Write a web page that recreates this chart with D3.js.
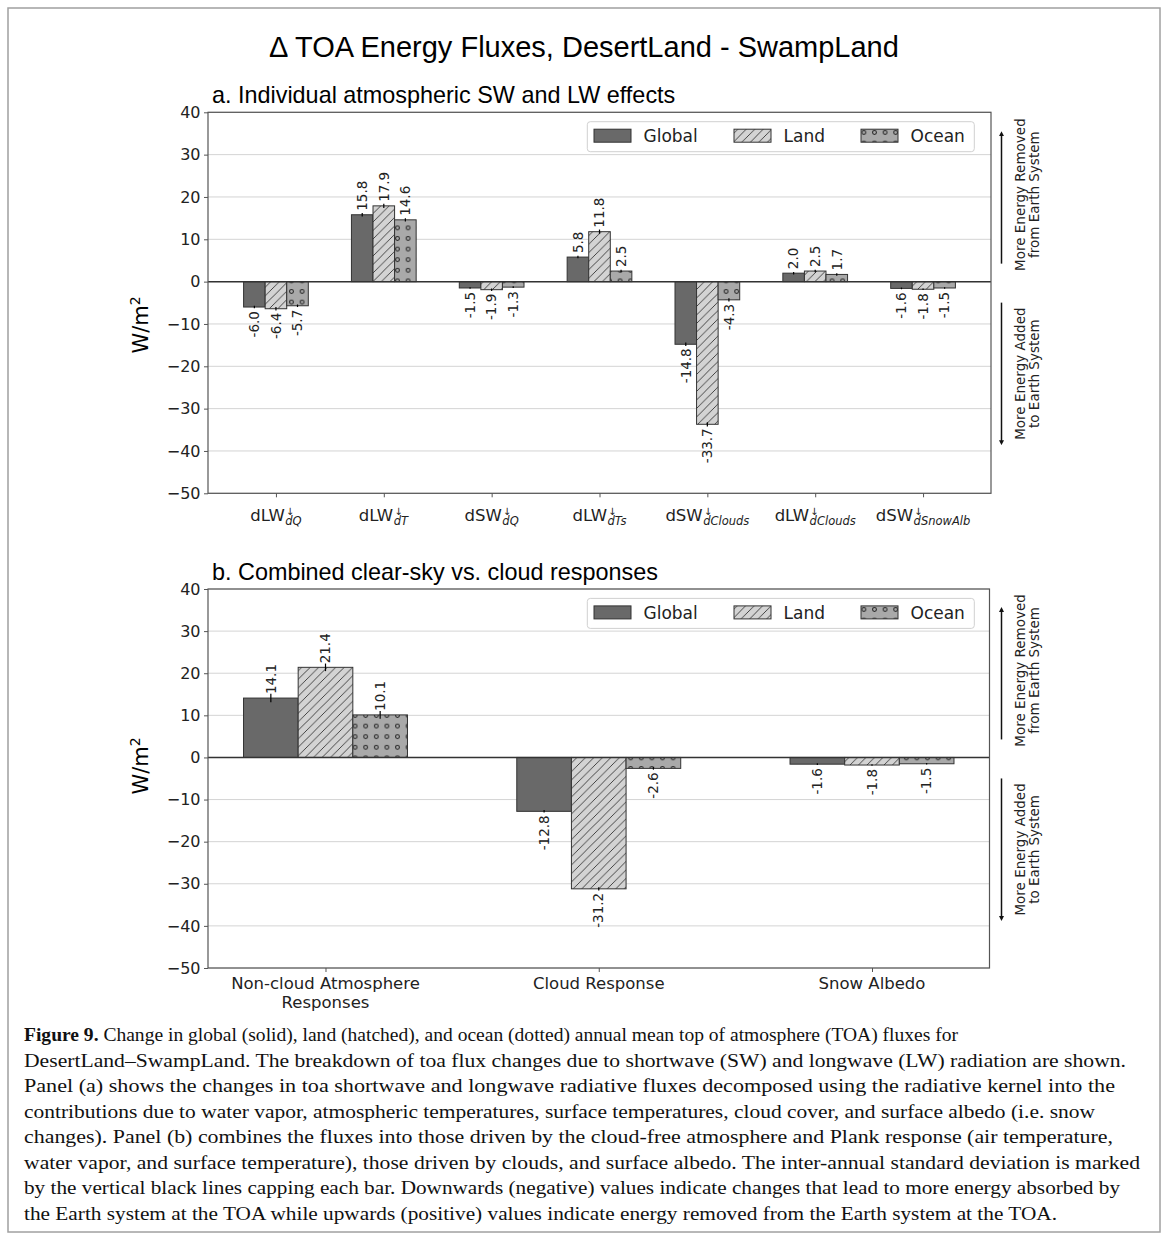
<!DOCTYPE html>
<html><head><meta charset="utf-8">
<script src="https://cdn.jsdelivr.net/npm/d3@7"></script>
<style>body{margin:0;background:#fff}</style>
</head><body><svg id="c" width="1168" height="1240"></svg>
<script>
// ---------- data ----------
const seriesNames = ["Global", "Land", "Ocean"];
const catsA = [["dLW","dQ"],["dLW","dT"],["dSW","dQ"],["dLW","dTs"],["dSW","dClouds"],["dLW","dClouds"],["dSW","dSnowAlb"]];
const globalA = [-6.0, 15.8, -1.5, 5.8, -14.8, 2.0, -1.6];
const landA   = [-6.4, 17.9, -1.9, 11.8, -33.7, 2.5, -1.8];
const oceanA  = [-5.7, 14.6, -1.3, 2.5, -4.3, 1.7, -1.5];
const errGlobalA = [0.3, 0.4, 0.2, 0.3, 0.4, 0.3, 0.2];
const errLandA   = [0.4, 0.5, 0.3, 0.5, 0.5, 0.3, 0.2];
const errOceanA  = [0.3, 0.4, 0.2, 0.3, 0.4, 0.3, 0.2];
const catsB = [["Non-cloud Atmosphere","Responses"],["Cloud Response"],["Snow Albedo"]];
const globalB = [14.1, -12.8, -1.6];
const landB   = [21.4, -31.2, -1.8];
const oceanB  = [10.1, -2.6, -1.5];
const errGlobalB = [1.0, 0.3, 0.2];
const errLandB   = [0.9, 0.4, 0.2];
const errOceanB  = [0.9, 0.3, 0.2];
const yTicks = [-50, -40, -30, -20, -10, 0, 10, 20, 30, 40];
const titleText = "\u0394 TOA Energy Fluxes, DesertLand - SwampLand";
const subA = "a. Individual atmospheric SW and LW effects";
const subB = "b. Combined clear-sky vs. cloud responses";
const upText = ["More Energy Removed", "from Earth System"];
const downText = ["More Energy Added", "to Earth System"];
const captionLines = [
 "Change in global (solid), land (hatched), and ocean (dotted) annual mean top of atmosphere (TOA) fluxes for",
 "DesertLand\u2013SwampLand. The breakdown of toa flux changes due to shortwave (SW) and longwave (LW) radiation are shown.",
 "Panel (a) shows the changes in toa shortwave and longwave radiative fluxes decomposed using the radiative kernel into the",
 "contributions due to water vapor, atmospheric temperatures, surface temperatures, cloud cover, and surface albedo (i.e. snow",
 "changes). Panel (b) combines the fluxes into those driven by the cloud-free atmosphere and Plank response (air temperature,",
 "water vapor, and surface temperature), those driven by clouds, and surface albedo. The inter-annual standard deviation is marked",
 "by the vertical black lines capping each bar. Downwards (negative) values indicate changes that lead to more energy absorbed by",
 "the Earth system at the TOA while upwards (positive) values indicate energy removed from the Earth system at the TOA."
];
const captionWidths = [934, 1102, 1091, 1071, 1089, 1116, 1096, 1033];

// ---------- setup ----------
const svg = d3.select("#c");
const SANS = "DejaVu Sans, sans-serif";
const HELV = "Liberation Sans, Arial, sans-serif";
const EDGE = "#333";
const defs = svg.append("defs");
const hp = defs.append("pattern").attr("id","hatch").attr("patternUnits","userSpaceOnUse")
  .attr("width",8.5).attr("height",8.5);
hp.append("rect").attr("width",8.5).attr("height",8.5).attr("fill","#d3d3d3");
hp.append("path").attr("d","M-1,9.5 L9.5,-1 M-3,2 L2,-3 M6.5,11.5 L11.5,6.5")
  .attr("stroke","#333").attr("stroke-width",0.9);
const dp = defs.append("pattern").attr("id","dots").attr("patternUnits","userSpaceOnUse")
  .attr("width",10.6).attr("height",10.6);
dp.append("rect").attr("width",10.6).attr("height",10.6).attr("fill","#a9a9a9");
dp.append("circle").attr("cx",5.3).attr("cy",5.3).attr("r",1.9)
  .attr("fill","none").attr("stroke","#222").attr("stroke-width",1);
defs.append("marker").attr("id","ah").attr("viewBox","0 0 10 10").attr("refX",5).attr("refY",5)
  .attr("markerWidth",5).attr("markerHeight",5).attr("orient","auto-start-reverse")
  .attr("markerUnits","userSpaceOnUse")
  .append("path").attr("d","M0,0 L10,5 L0,10 z").attr("fill","#111");
const fills = ["#696969", "url(#hatch)", "url(#dots)"];

// outer frame
svg.append("rect").attr("x",8).attr("y",8).attr("width",1152).attr("height",1224)
  .attr("fill","none").attr("stroke","#a0a0a0").attr("stroke-width",1.5);

svg.append("text").attr("x",584).attr("y",57).attr("text-anchor","middle")
  .attr("font-family",HELV).attr("font-size",29).attr("fill","#000").text(titleText);

function panel(cfg) {
  const n = cfg.cats.length;
  const m = 0.05 * (n - 1 + 0.6);
  const x = d3.scaleLinear().domain([-0.3 - m, n - 1 + 0.3 + m]).range([cfg.left, cfg.right]);
  const y = d3.scaleLinear().domain([-50, 40]).range([cfg.bottom, cfg.top]);
  const g = svg.append("g");

  g.append("text").attr("x", cfg.left + 4).attr("y", cfg.top - 9)
    .attr("font-family",HELV).attr("font-size",23.4).attr("fill","#000").text(cfg.sub);

  // grid
  g.append("g").selectAll("line").data(yTicks).join("line")
    .attr("x1",cfg.left).attr("x2",cfg.right).attr("y1",d=>y(d)).attr("y2",d=>y(d))
    .attr("stroke","#d4d4d4").attr("stroke-width",1);

  // bars
  const series = [cfg.g, cfg.l, cfg.o];
  const errs = [cfg.eg, cfg.el, cfg.eo];
  series.forEach((vals, k) => {
    vals.forEach((v, i) => {
      const c = i + (k - 1) * 0.2;
      const x0 = x(c - 0.1), x1 = x(c + 0.1);
      g.append("rect").attr("x", x0).attr("width", x1 - x0)
        .attr("y", Math.min(y(v), y(0))).attr("height", Math.abs(y(v) - y(0)))
        .attr("fill", fills[k]).attr("stroke", EDGE).attr("stroke-width", 1);
    });
  });
  // zero line
  g.append("line").attr("x1",cfg.left).attr("x2",cfg.right).attr("y1",y(0)).attr("y2",y(0))
    .attr("stroke","#333").attr("stroke-width",1.5);
  // error bars + labels
  series.forEach((vals, k) => {
    vals.forEach((v, i) => {
      const c = x(i + (k - 1) * 0.2);
      const e = errs[k][i];
      g.append("line").attr("x1",c).attr("x2",c).attr("y1",y(v - e)).attr("y2",y(v + e))
        .attr("stroke","#000").attr("stroke-width",1.2);
      const yy = v >= 0 ? y(v) - 4 : y(v) + 4;
      g.append("text").attr("transform",`translate(${c},${yy}) rotate(-90)`)
        .attr("text-anchor", v >= 0 ? "start" : "end").attr("dy","0.35em")
        .attr("font-family",SANS).attr("font-size",13.5).attr("fill","#222")
        .text(d3.format(".1f")(v).replace("\u2212","-"));
    });
  });

  // spines
  g.append("rect").attr("x",cfg.left).attr("y",cfg.top).attr("width",cfg.right-cfg.left)
    .attr("height",cfg.bottom-cfg.top).attr("fill","none").attr("stroke","#555").attr("stroke-width",1.2);

  // y axis
  const ya = g.append("g").attr("transform",`translate(${cfg.left},0)`)
    .call(d3.axisLeft(y).tickValues(yTicks).tickSize(4).tickPadding(3.5).tickFormat(d3.format("d")));
  ya.select(".domain").remove();
  ya.selectAll(".tick line").attr("stroke","#555");
  ya.selectAll(".tick text").attr("font-family",SANS).attr("font-size",16).attr("fill","#222");

  // x axis ticks
  const xa = g.append("g").attr("transform",`translate(0,${cfg.bottom})`)
    .call(d3.axisBottom(x).tickValues(d3.range(n)).tickSize(4).tickFormat(""));
  xa.select(".domain").remove();
  xa.selectAll(".tick line").attr("stroke","#555");

  cfg.cats.forEach((cat, i) => {
    if (cfg.math) {
      // single text element: main + superscript arrow + subscript (stacked)
      const t = g.append("text").attr("x",0).attr("y",0).attr("font-family",SANS)
        .attr("font-size",16.5).attr("fill","#222");
      t.append("tspan").text(cat[0]);
      const ar = t.append("tspan").attr("dx",1).attr("dy",-6).attr("font-size",10).text("\u2193");
      const aw = ar.node().getComputedTextLength();
      t.append("tspan").attr("dx",-aw - 0.5).attr("dy",10).attr("font-style","italic")
        .attr("font-size",11.5).text(cat[1]);
      const bb = t.node().getBBox();
      t.attr("transform",`translate(${x(i) - (bb.x + bb.width/2)},${cfg.bottom + 28})`);
    } else {
      cat.forEach((line, j) => {
        g.append("text").attr("x",x(i)).attr("y",cfg.bottom + 21 + j * 19)
          .attr("text-anchor","middle").attr("font-family",SANS).attr("font-size",16.5)
          .attr("fill","#222").text(line);
      });
    }
  });

  // y label
  const yl = g.append("text").attr("transform",`translate(${cfg.ylx},${cfg.yly}) rotate(-90)`)
    .attr("text-anchor","middle").attr("font-family",SANS).attr("font-size",21).attr("fill","#000");
  yl.append("tspan").text("W/m");
  yl.append("tspan").attr("dy",-8).attr("font-size",14).text("2");

  // legend
  const lg = g.append("g");
  const ly = cfg.top + 9.4;
  lg.append("rect").attr("x",587.3).attr("y",ly).attr("width",387).attr("height",30).attr("rx",3)
    .attr("fill","#fff").attr("fill-opacity",0.85).attr("stroke","#d0d0d0").attr("stroke-width",1);
  const lx = [594, 734, 861];
  seriesNames.forEach((s, k) => {
    lg.append("rect").attr("x",lx[k]).attr("y",ly + 7.5).attr("width",37).attr("height",13)
      .attr("fill",fills[k]).attr("stroke",EDGE).attr("stroke-width",1);
    lg.append("text").attr("x",lx[k] + 49.5).attr("y",ly + 20.5).attr("font-family",SANS)
      .attr("font-size",17).attr("fill","#222").text(s);
  });

  // right annotations
  const z = y(0);
  const ax = 1001.5;
  g.append("line").attr("x1",ax).attr("x2",ax).attr("y1",z - 18).attr("y2",z - 148)
    .attr("stroke","#111").attr("stroke-width",1.5).attr("marker-end","url(#ah)");
  g.append("line").attr("x1",ax).attr("x2",ax).attr("y1",z + 21).attr("y2",z + 161)
    .attr("stroke","#111").attr("stroke-width",1.5).attr("marker-end","url(#ah)");
  [[upText, z - 87], [downText, z + 92]].forEach(([lines, cy]) => {
    lines.forEach((ln, j) => {
      g.append("text").attr("transform",`translate(${1020 + j * 14},${cy}) rotate(-90)`)
        .attr("text-anchor","middle").attr("dy","0.35em").attr("font-family",SANS)
        .attr("font-size",13.5).attr("fill","#222").text(ln);
    });
  });
}

panel({cats:catsA, g:globalA, l:landA, o:oceanA, eg:errGlobalA, el:errLandA, eo:errOceanA,
  left:208, right:991, top:112.3, bottom:493.3, sub:subA, math:true, ylx:148, yly:325});
panel({cats:catsB, g:globalB, l:landB, o:oceanB, eg:errGlobalB, el:errLandB, eo:errOceanB,
  left:208, right:989.5, top:589, bottom:968, sub:subB, math:false, ylx:148, yly:766});

// caption
captionLines.forEach((ln, i) => {
  const t = svg.append("text").attr("x",24).attr("y",1041 + i * 25.5)
    .attr("font-family","Liberation Serif, Times New Roman, serif").attr("font-size",19.5).attr("fill","#111")
    .attr("textLength",captionWidths[i]).attr("lengthAdjust","spacingAndGlyphs");
  if (i === 0) {
    t.append("tspan").attr("font-weight","bold").text("Figure 9.");
    t.append("tspan").text(" " + ln);
  } else t.text(ln);
});
</script></body></html>
